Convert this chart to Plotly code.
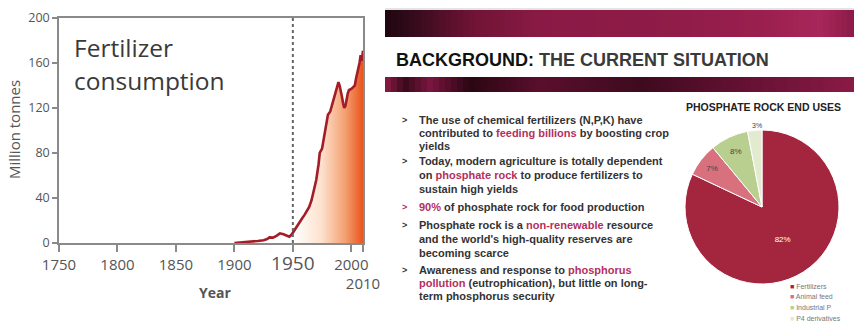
import plotly.graph_objects as go

# ---------------- data ----------------
years = [1900, 1905, 1910, 1915, 1920, 1925, 1928, 1930, 1933, 1936, 1939, 1942,
         1945, 1947, 1949, 1951, 1953, 1955, 1958, 1960, 1962, 1964, 1966, 1968,
         1970, 1972, 1973, 1975, 1977, 1979, 1980, 1982, 1984, 1985, 1986, 1988,
         1989, 1990, 1991, 1992, 1993, 1994, 1995, 1996, 1997, 1998, 2000, 2002,
         2003, 2004, 2005, 2006, 2007, 2008, 2009, 2010]
consumption_mt = [0, 0.3, 1, 1.4, 1.8, 2.5, 3.5, 5, 4.8, 6.3, 8.6, 7.8,
                  6.2, 5.5, 7.5, 11, 14, 17, 22, 25, 29, 32, 38, 46,
                  56, 70, 80, 84, 95, 108, 114, 117, 124, 129, 131, 138,
                  143, 140, 136, 130, 124, 120, 122, 130, 133, 136, 137, 139,
                  140, 146, 150, 155, 160, 167, 162, 171]
marker_year = 1950

x_tickvals = [1750, 1800, 1850, 1900, 1950, 2000, 2010]
x_ticktext = ["1750", "1800", "1850", "1900",
              "<span style='font-size:19px'>1950</span>", "2000", "<br>2010"]
y_tickvals = [0, 40, 80, 120, 160, 200]

end_uses = ["Fertilizers", "Animal feed", "Industrial P", "P4 derivatives"]
end_use_pct = [82, 7, 8, 3]
end_use_colors = ["#a3263e", "#d8717d", "#b8cf8f", "#e2ebd0"]

slide_title_bold = "BACKGROUND:"
slide_title_rest = " THE CURRENT SITUATION"
pie_title = "PHOSPHATE ROCK END USES"

HL = "#b3305e"  # highlight colour for key phrases
bullets = [
    ["The use of chemical fertilizers (N,P,K) have",
     f"contributed to <span style='color:{HL}'>feeding billions</span> by boosting crop",
     "yields"],
    ["Today, modern agriculture is totally dependent",
     f"on <span style='color:{HL}'>phosphate rock</span> to produce fertilizers to",
     "sustain high yields"],
    [f"<span style='color:{HL}'>90%</span> of phosphate rock for food production"],
    [f"Phosphate rock is a <span style='color:{HL}'>non-renewable</span> resource",
     "and the world's high-quality reserves are",
     "becoming scarce"],
    [f"Awareness and response to <span style='color:{HL}'>phosphorus</span>",
     f"<span style='color:{HL}'>pollution</span> (eutrophication), but little on long-",
     "term phosphorus security"],
]
bullet_colors = ["#333333", "#333333", HL, "#333333", "#333333"]

# ---------------- helpers ----------------
W, H = 854, 322


def px(x):
    return x / W


def py(y):
    return 1 - y / H


def hex_to_rgb(h):
    h = h.lstrip("#")
    return tuple(int(h[i:i + 2], 16) for i in (0, 2, 4))


def interp_color(stops, x):
    for (x0, c0), (x1, c1) in zip(stops[:-1], stops[1:]):
        if x0 <= x <= x1:
            t = (x - x0) / (x1 - x0) if x1 > x0 else 0
            a, b = hex_to_rgb(c0), hex_to_rgb(c1)
            return "rgb(%d,%d,%d)" % tuple(round(a[i] + (b[i] - a[i]) * t) for i in range(3))
    return stops[-1][1]


fig = go.Figure()

# ---------------- fertilizer consumption chart ----------------
post_x = [y for y in years if y >= marker_year]
post_y = [v for y, v in zip(years, consumption_mt) if y >= marker_year]

fig.add_trace(go.Scatter(
    x=post_x, y=post_y, mode="none", fill="tozeroy",
    fillgradient=dict(type="horizontal",
                      colorscale=[[0, "#ffffff"], [0.4, "#fde1cd"],
                                  [0.75, "#f49e6e"], [1, "#e9541d"]]),
    hoverinfo="skip", showlegend=False, xaxis="x", yaxis="y"))

fig.add_trace(go.Scatter(
    x=years, y=consumption_mt, mode="lines",
    line=dict(color="#a41d26", width=2.6),
    showlegend=False, xaxis="x", yaxis="y"))

fig.add_trace(go.Scatter(
    x=[marker_year, marker_year], y=[0, 200], mode="lines",
    line=dict(color="#666666", width=2, dash="dot"),
    showlegend=False, hoverinfo="skip", xaxis="x", yaxis="y"))

axis_common = dict(showgrid=False, zeroline=False, showline=True, automargin=False,
                   linecolor="#8a8a8a", linewidth=1.5, mirror=True,
                   ticks="outside", tickcolor="#8a8a8a", tickwidth=1.5)

fig.update_layout(
    xaxis=dict(domain=[px(59), px(363)], range=[1750, 2010],
               tickvals=x_tickvals, ticktext=x_ticktext, tickangle=0,
               ticklen=7, tickfont=dict(family="Open Sans", size=15, color="#555555"),
               **axis_common),
    yaxis=dict(domain=[py(243), py(18)], range=[0, 200],
               tickvals=y_tickvals, ticklen=5,
               tickfont=dict(family="Open Sans", size=12.5, color="#555555"),
               **axis_common),
)

# ---------------- phosphate rock pie ----------------
cx, cy, r = 762, 207, 77
fig.add_trace(go.Pie(
    labels=end_uses, values=end_use_pct, sort=False, direction="clockwise",
    rotation=0, marker=dict(colors=end_use_colors, line=dict(color="white", width=1)),
    texttemplate="%{value}%", textposition=["inside", "inside", "inside", "none"],
    insidetextorientation="horizontal", automargin=False,
    textfont=dict(family="Liberation Sans", size=8,
                  color=["#ffffff", "#444444", "#444444", "#444444"]),
    domain=dict(x=[px(cx - r), px(cx + r)], y=[py(cy + r), py(cy - r)]),
    showlegend=False))

# ---------------- slide decorations ----------------
shapes = []
top_stops = [(385, "#1e0610"), (420, "#3c0b1e"), (470, "#6e1333"), (540, "#8a1a45"),
             (650, "#8e1b47"), (760, "#9a1f4e"), (820, "#a8275a"), (854, "#8c1a46")]
bot_stops = [(385, "#8c1a46"), (405, "#3a0a1a"), (430, "#7a1540"), (470, "#2a0612"),
             (540, "#5a0f2c"), (640, "#3e0a1e"), (760, "#6a1236"), (854, "#8a1a46")]
step = 6
for band, (y0, y1) in ((top_stops, (10, 37)), (bot_stops, (77, 92))):
    for x in range(385, 854, step):
        shapes.append(dict(type="rect", xref="paper", yref="paper",
                           x0=px(x), x1=px(min(x + step + 1, 854)), y0=py(y1), y1=py(y0),
                           fillcolor=interp_color(band, x + step / 2),
                           line=dict(width=0), layer="below"))
shapes.append(dict(type="line", xref="paper", yref="paper", x0=px(385), x1=1,
                   y0=py(9), y1=py(9), line=dict(color="#c8c8c8", width=1)))

annotations = []


def add_text(x, y, text, size, color="#333333", family="Open Sans",
             xanchor="left", yanchor="middle", angle=0):
    annotations.append(dict(x=px(x), y=py(y), xref="paper", yref="paper",
                            text=text, showarrow=False, xanchor=xanchor, yanchor=yanchor,
                            textangle=angle,
                            font=dict(family=family, size=size, color=color)))


# chart labels
add_text(72, 47, "Fertilizer", 24.5, "#3a3a3a")
add_text(72, 81, "consumption", 24.5, "#3a3a3a")
add_text(14, 130, "Million tonnes", 15, "#555555", xanchor="center", angle=-90)
add_text(215, 292, "<b>Year</b>", 14, "#555555", xanchor="center")

# slide title
add_text(394, 60,
         f"<b>{slide_title_bold}</b><span style='color:#3a3a3a'><b>{slide_title_rest}</b></span>",
         18, "#111111", family="Liberation Sans")

# bullets
line_ys = [[120, 133, 146], [161, 175, 189], [207], [225, 239, 253], [270, 283, 296]]
for lines, ys, bcol in zip(bullets, line_ys, bullet_colors):
    add_text(400, ys[0], "<b>&gt;</b>", 9, bcol, family="Liberation Sans")
    for text, yy in zip(lines, ys):
        add_text(417, yy, f"<b>{text}</b>", 11, "#333333", family="Liberation Sans")

# pie title, small-slice label and legend
add_text(763, 107, f"<b>{pie_title}</b>", 10.5, "#222222",
         family="Liberation Sans", xanchor="center")
add_text(757, 126, f"{end_use_pct[3]}%", 7, "#444444",
         family="Liberation Sans", xanchor="center")
for i, (lab, col) in enumerate(zip(end_uses, end_use_colors)):
    yy = 286 + i * 10.8
    add_text(788, yy, f"<span style='color:{col}'>■</span> {lab}", 7, "#777777",
             family="Liberation Sans")

fig.update_layout(
    width=W, height=H, margin=dict(l=0, r=0, t=0, b=0),
    paper_bgcolor="white", plot_bgcolor="white",
    showlegend=False, shapes=shapes, annotations=annotations,
)

fig.write_html("out.html")
